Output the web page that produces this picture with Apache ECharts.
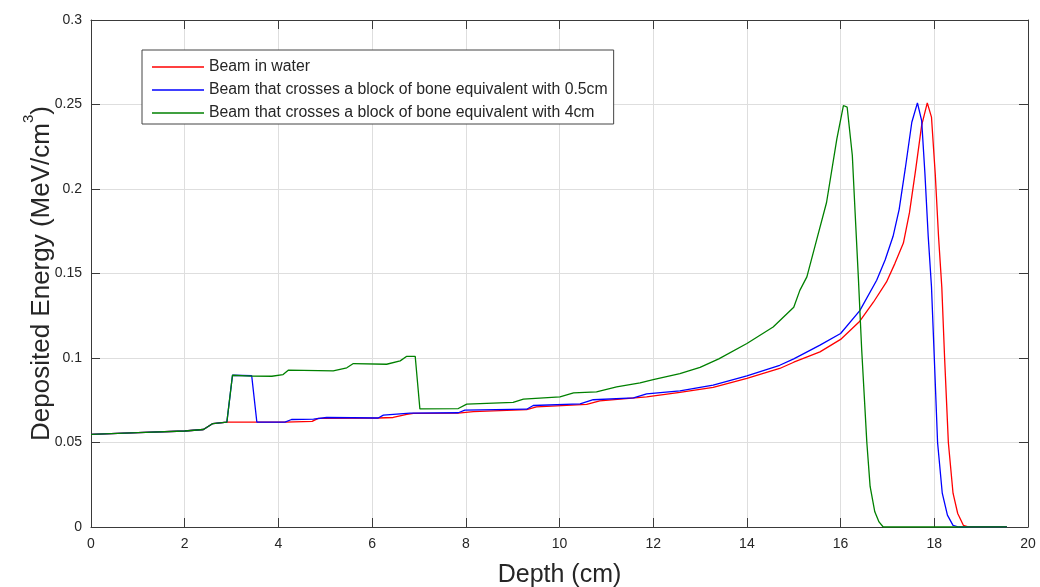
<!DOCTYPE html>
<html>
<head>
<meta charset="utf-8">
<script src="https://cdn.jsdelivr.net/npm/echarts@6/dist/echarts.min.js"></script>
<style>
  html, body { margin: 0; padding: 0; background: #fff; }
  #chart { width: 1040px; height: 587px; }
</style>
</head>
<body>
<div id="chart"></div>
<script>
// Depth-dose curves (deposited energy vs depth) for a proton beam.
const seriesNames = [
  'Beam in water',
  'Beam that crosses a block of bone equivalent with 0.5cm',
  'Beam that crosses a block of bone equivalent with 4cm'
];

// Beam in water
const waterDepth = [0, 1, 2, 2.4, 2.6, 2.9, 4.14, 4.72, 4.85, 6.13, 6.45, 6.74, 6.88, 7.84, 8.16, 9.3, 9.51, 10.58, 10.86, 11.86, 12.57, 13.28, 14.0, 14.7, 15.0, 15.56, 16.0, 16.41, 16.7, 16.98, 17.16, 17.34, 17.47, 17.6, 17.73, 17.85, 17.94, 18.02, 18.09, 18.16, 18.22, 18.3, 18.4, 18.5, 18.62, 18.74, 19.55];
const waterEnergy = [0.0548, 0.0558, 0.0568, 0.0577, 0.0612, 0.0621, 0.0621, 0.0625, 0.0643, 0.0645, 0.0648, 0.0666, 0.0672, 0.0674, 0.0683, 0.0695, 0.0711, 0.0725, 0.0746, 0.0770, 0.0796, 0.0826, 0.0879, 0.0938, 0.0975, 0.1036, 0.1110, 0.1218, 0.1330, 0.1450, 0.1560, 0.1680, 0.1860, 0.2110, 0.2376, 0.2510, 0.2425, 0.2090, 0.1720, 0.1420, 0.1000, 0.0500, 0.0200, 0.0080, 0.0010, 0, 0];

// 0.5 cm bone-equivalent block
const bone05Depth = [0, 1, 2, 2.4, 2.6, 2.9, 3.02, 3.43, 3.54, 4.14, 4.28, 4.75, 5.03, 6.13, 6.24, 6.81, 7.84, 7.98, 9.3, 9.44, 10.44, 10.72, 11.58, 11.86, 12.57, 13.28, 14.0, 14.7, 15.0, 15.56, 16.0, 16.41, 16.77, 16.95, 17.12, 17.25, 17.38, 17.52, 17.64, 17.73, 17.8, 17.87, 17.94, 18.0, 18.07, 18.17, 18.28, 18.4, 18.52, 19.55];
const bone05Energy = [0.0548, 0.0558, 0.0568, 0.0577, 0.0612, 0.0621, 0.0898, 0.0895, 0.0621, 0.0621, 0.0636, 0.0638, 0.0648, 0.0645, 0.0662, 0.0674, 0.0676, 0.0691, 0.0697, 0.0719, 0.0729, 0.0753, 0.0764, 0.0788, 0.0806, 0.0839, 0.0894, 0.0957, 0.0995, 0.1076, 0.1145, 0.1280, 0.1460, 0.1580, 0.1720, 0.1880, 0.2120, 0.2395, 0.2510, 0.2405, 0.2090, 0.1720, 0.1420, 0.1000, 0.0500, 0.0200, 0.0070, 0.0010, 0, 0];

// 4 cm bone-equivalent block
const bone4Depth = [0, 1, 2, 2.4, 2.6, 2.9, 3.02, 3.43, 3.86, 4.1, 4.21, 5.17, 5.46, 5.6, 6.31, 6.6, 6.74, 6.92, 7.02, 7.84, 8.02, 9.01, 9.23, 10.01, 10.3, 10.79, 11.22, 11.72, 12.0, 12.57, 13.0, 13.4, 14.0, 14.56, 15.0, 15.13, 15.28, 15.49, 15.7, 15.92, 16.06, 16.14, 16.25, 16.31, 16.38, 16.45, 16.5, 16.56, 16.63, 16.73, 16.82, 16.91, 19.55];
const bone4Energy = [0.0548, 0.0558, 0.0568, 0.0577, 0.0612, 0.0621, 0.0898, 0.0893, 0.0892, 0.0902, 0.0928, 0.0924, 0.0942, 0.0967, 0.0963, 0.0983, 0.1010, 0.1010, 0.0699, 0.0701, 0.0727, 0.0737, 0.0757, 0.0770, 0.0794, 0.0800, 0.0829, 0.0853, 0.0872, 0.0908, 0.0945, 0.0995, 0.1086, 0.1183, 0.1300, 0.1400, 0.1480, 0.1700, 0.1920, 0.2297, 0.2494, 0.2484, 0.2200, 0.1860, 0.1470, 0.1050, 0.0800, 0.0500, 0.0240, 0.0090, 0.0030, 0, 0];

const xTicks = { min: 0, max: 20, interval: 2 };
const yTicks = { min: 0, max: 0.3, interval: 0.05 };

const colors = ['#ff0000', '#0000ff', '#008000'];

function pairs(xs, ys) {
  return xs.map((x, i) => [x, ys[i]]);
}

const axisColor = '#3a3a3a';
const textColor = '#262626';
const fontFamily = '"Liberation Sans", Arial, Helvetica, sans-serif';

const chart = echarts.init(document.getElementById('chart'), null, { renderer: 'canvas' });

const baseX = {
  type: 'value', min: xTicks.min, max: xTicks.max, interval: xTicks.interval,
  axisLine: { show: true, onZero: false, lineStyle: { color: axisColor, width: 1 } },
  axisTick: { show: true, inside: true, length: 9, lineStyle: { color: axisColor } }
};
const baseY = {
  type: 'value', min: yTicks.min, max: yTicks.max, interval: yTicks.interval,
  axisLine: { show: true, onZero: false, lineStyle: { color: axisColor, width: 1 } },
  axisTick: { show: true, inside: true, length: 9, lineStyle: { color: axisColor } }
};

// Legend entries drawn as plain line samples (no marker)
const lineIcon = 'path://M0,0 M52,14 M0,6.35 L52,6.35 L52,7.65 L0,7.65 Z';

const option = {
  backgroundColor: '#ffffff',
  animation: false,
  textStyle: { fontFamily: fontFamily },
  grid: { left: 91, right: 12, top: 20, bottom: 60, containLabel: false, outerBoundsMode: 'none' },
  legend: {
    orient: 'vertical',
    left: 142, top: 50,
    padding: [9, 6, 3, 10],
    itemWidth: 52, itemHeight: 14, itemGap: 7,
    backgroundColor: '#ffffff',
    borderColor: '#444444', borderWidth: 1,
    textStyle: { fontFamily: fontFamily, fontSize: 15.8, color: textColor },
    data: seriesNames.map(n => ({ name: n, icon: lineIcon }))
  },
  xAxis: [
    Object.assign({}, baseX, {
      position: 'bottom',
      name: 'Depth (cm)', nameLocation: 'middle', nameGap: 36,
      nameMoveOverlap: false,
      nameTextStyle: { fontSize: 25, color: textColor, fontFamily: fontFamily },
      axisLabel: { margin: 10, fontSize: 14, color: textColor, fontFamily: fontFamily },
      splitLine: { show: true, lineStyle: { color: '#dedede', width: 1 } }
    }),
    Object.assign({}, baseX, {
      position: 'top',
      axisLabel: { show: false },
      splitLine: { show: false }
    })
  ],
  yAxis: [
    Object.assign({}, baseY, {
      position: 'left',
      name: 'Deposited Energy (MeV/cm{sup|3})', nameLocation: 'middle', nameGap: 28,
      nameMoveOverlap: false,
      nameTextStyle: {
        fontSize: 26, color: textColor, fontFamily: fontFamily, lineHeight: 42,
        rich: { sup: { fontSize: 15, lineHeight: 14, verticalAlign: 'top', color: textColor, fontFamily: fontFamily } }
      },
      axisLabel: { margin: 9, fontSize: 14, color: textColor, fontFamily: fontFamily },
      splitLine: { show: true, lineStyle: { color: '#dedede', width: 1 } }
    }),
    Object.assign({}, baseY, {
      position: 'right',
      axisLabel: { show: false },
      splitLine: { show: false }
    })
  ],
  series: [
    { name: seriesNames[0], data: pairs(waterDepth, waterEnergy), color: colors[0] },
    { name: seriesNames[1], data: pairs(bone05Depth, bone05Energy), color: colors[1] },
    { name: seriesNames[2], data: pairs(bone4Depth, bone4Energy), color: colors[2] }
  ].map(s => ({
    type: 'line',
    name: s.name,
    data: s.data,
    xAxisIndex: 0,
    yAxisIndex: 0,
    symbol: 'none',
    showSymbol: false,
    smooth: false,
    lineStyle: { color: s.color, width: 1.3 },
    itemStyle: { color: s.color },
    emphasis: { disabled: true }
  }))
};

chart.setOption(option);
</script>
</body>
</html>
